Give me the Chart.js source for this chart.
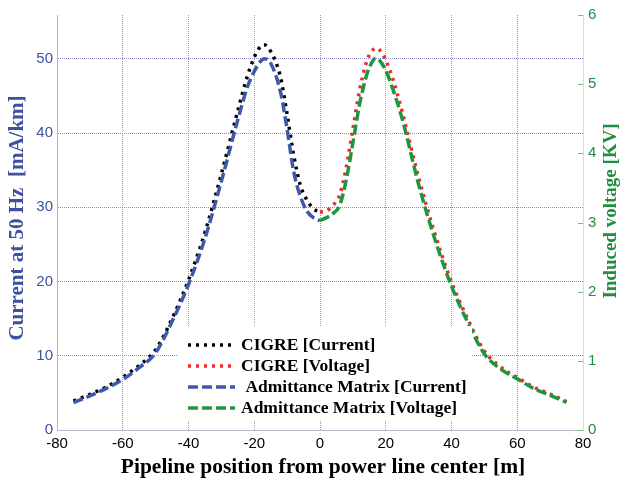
<!DOCTYPE html>
<html>
<head>
<meta charset="utf-8">
<script src="https://cdn.jsdelivr.net/npm/chart.js@4.4.1/dist/chart.umd.min.js"></script>
<style>
  html, body { margin: 0; padding: 0; background: #fff; }
  #wrap { width: 622px; height: 486px; }
</style>
</head>
<body>
<div id="wrap"><canvas id="chart"></canvas></div>
<script>
// current side (left half), mA/km
var xCurrent = [-75, -70, -65, -60, -55, -50, -45, -40, -35, -30, -25, -22, -20, -18, -17, -15, -12, -10, -8, -6, -4, -2, 0];
var cigreCurrent = [3.9, 4.8, 5.8, 7.1, 8.7, 10.8, 15.0, 20.2, 26.6, 34.5, 43.0, 47.8, 50.2, 51.7, 51.9, 51.0, 47.5, 42.5, 37.0, 33.0, 31.0, 29.8, 29.4];
var admCurrent = [3.7, 4.6, 5.6, 6.8, 8.4, 10.4, 14.6, 19.6, 25.8, 33.5, 41.8, 46.3, 48.3, 49.7, 50.0, 49.4, 45.5, 40.5, 34.8, 31.5, 29.5, 28.6, 28.2];

// voltage side (right half), kV
var xVoltage = [0, 2, 4, 6, 8, 10, 12, 14, 15, 17, 18, 20, 22, 25, 30, 35, 40, 45, 50, 55, 60, 65, 70, 75];
var cigreVoltage = [3.15, 3.17, 3.25, 3.4, 3.8, 4.35, 4.9, 5.3, 5.42, 5.52, 5.5, 5.35, 5.1, 4.6, 3.65, 2.83, 2.14, 1.6, 1.14, 0.91, 0.76, 0.62, 0.52, 0.41];
var admVoltage = [3.03, 3.07, 3.13, 3.25, 3.62, 4.15, 4.7, 5.1, 5.24, 5.375, 5.35, 5.2, 4.95, 4.5, 3.55, 2.75, 2.08, 1.55, 1.1, 0.88, 0.74, 0.6, 0.5, 0.4];

var xTicks = [-80, -60, -40, -20, 0, 20, 40, 60, 80];
var currentTicks = [0, 10, 20, 30, 40, 50];
var voltageTicks = [0, 1, 2, 3, 4, 5, 6];

var seriesNames = ['CIGRE [Current]', 'CIGRE [Voltage]', ' Admittance Matrix [Current]', 'Admittance Matrix [Voltage]'];

var BLUE = '#3d51a0';
var GREEN = '#1f8f3f';

function pts(xs, ys) {
  return xs.map(function (x, i) { return { x: x, y: ys[i] }; });
}

// legend, axis titles and inner right-axis ticks
var extras = {
  id: 'extras',
  afterDraw: function (chart) {
    var c = chart.ctx;
    var ds = chart.data.datasets;
    c.save();
    c.fillStyle = '#fff';
    c.fillRect(178, 326, 294, 94);
    var rows = [345, 366, 387, 408];
    for (var i = 0; i < 4; i++) {
      var d = ds[i];
      c.beginPath();
      c.strokeStyle = d.borderColor;
      c.lineWidth = d.borderWidth;
      c.setLineDash(d.borderDash);
      c.moveTo(188, rows[i]);
      c.lineTo(235, rows[i]);
      c.stroke();
      c.setLineDash([]);
      c.fillStyle = '#000';
      c.font = 'bold 17.5px "Liberation Serif"';
      c.textBaseline = 'middle';
      c.textAlign = 'left';
      c.fillText(seriesNames[i], 241, rows[i]);
    }

    // inner ticks on right axis
    var y1 = chart.scales.y1;
    c.strokeStyle = '#6fbf80';
    c.lineWidth = 1;
    voltageTicks.forEach(function (v) {
      var py = Math.round(y1.getPixelForValue(v)) + 0.5;
      c.beginPath();
      c.moveTo(y1.left - 5, py);
      c.lineTo(y1.left, py);
      c.stroke();
    });

    // axis titles
    c.textAlign = 'center';
    c.textBaseline = 'middle';
    c.fillStyle = BLUE;
    c.font = 'bold 21px "Liberation Serif"';
    c.translate(18, 218);
    c.rotate(-Math.PI / 2);
    c.fillText('Current at 50 Hz  [mA/km]', 0, 0);
    c.setTransform(1, 0, 0, 1, 0, 0);
    c.fillStyle = GREEN;
    c.font = 'bold 19px "Liberation Serif"';
    c.translate(611, 211);
    c.rotate(-Math.PI / 2);
    c.fillText('Induced voltage [KV]', 0, 0);
    c.setTransform(1, 0, 0, 1, 0, 0);
    c.fillStyle = '#000';
    c.font = 'bold 21.5px "Liberation Serif"';
    c.fillText('Pipeline position from power line center [m]', 323, 467);
    c.restore();
  }
};

new Chart(document.getElementById('chart'), {
  type: 'line',
  data: {
    datasets: [
      { label: seriesNames[0], data: pts(xCurrent, cigreCurrent), yAxisID: 'y', borderColor: '#000', borderWidth: 3.5, borderDash: [3, 5], order: 3 },
      { label: seriesNames[1], data: pts(xVoltage, cigreVoltage), yAxisID: 'y1', borderColor: '#ee2a2a', borderWidth: 3.5, borderDash: [3, 5], order: 1 },
      { label: seriesNames[2], data: pts(xCurrent, admCurrent), yAxisID: 'y', borderColor: '#3d5aaa', borderWidth: 3.5, borderDash: [10, 4], order: 2 },
      { label: seriesNames[3], data: pts(xVoltage, admVoltage), yAxisID: 'y1', borderColor: '#1e9640', borderWidth: 3.5, borderDash: [10, 4], order: 0 }
    ]
  },
  options: {
    responsive: true,
    maintainAspectRatio: false,
    animation: false,
    layout: { padding: { top: 15, left: 0, right: 0, bottom: 0 } },
    elements: {
      point: { radius: 0 },
      line: { cubicInterpolationMode: 'monotone', fill: false }
    },
    plugins: {
      legend: { display: false },
      tooltip: { enabled: false }
    },
    scales: {
      x: {
        type: 'linear',
        min: -80,
        max: 80,
        afterBuildTicks: function (s) { s.ticks = xTicks.map(function (v) { return { value: v }; }); },
        afterFit: function (s) { s.height = 56; },
        ticks: { color: '#000', font: { family: 'Liberation Sans', size: 15 }, padding: 5, maxRotation: 0 },
        grid: {
          drawTicks: false,
          color: function (ctx) { return (ctx.tick && Math.abs(ctx.tick.value) === 80) ? 'rgba(0,0,0,0)' : '#9c9c9c'; },
          lineWidth: 1
        },
        border: { display: true, color: '#b8bccc', dash: [1, 1] }
      },
      y: {
        position: 'left',
        min: 0,
        max: 55.9,
        afterBuildTicks: function (s) { s.ticks = currentTicks.map(function (v) { return { value: v }; }); },
        afterFit: function (s) { s.width = 57; },
        ticks: { color: BLUE, font: { family: 'Liberation Sans', size: 15 }, padding: 4 },
        grid: {
          drawTicks: false,
          color: function (ctx) { return (ctx.tick && ctx.tick.value === 0) ? 'rgba(0,0,0,0)' : '#8a8ad0'; },
          lineWidth: 1
        },
        border: { display: true, color: '#b0b4c8', dash: [1, 1] }
      },
      y1: {
        position: 'right',
        min: 0,
        max: 6,
        afterBuildTicks: function (s) { s.ticks = voltageTicks.map(function (v) { return { value: v }; }); },
        afterFit: function (s) { s.width = 39; },
        ticks: { color: GREEN, font: { family: 'Liberation Sans', size: 15 }, padding: 5 },
        grid: { drawOnChartArea: false, drawTicks: false },
        border: { display: true, color: '#c9e3cf' }
      }
    }
  },
  plugins: [extras]
});
</script>
</body>
</html>
